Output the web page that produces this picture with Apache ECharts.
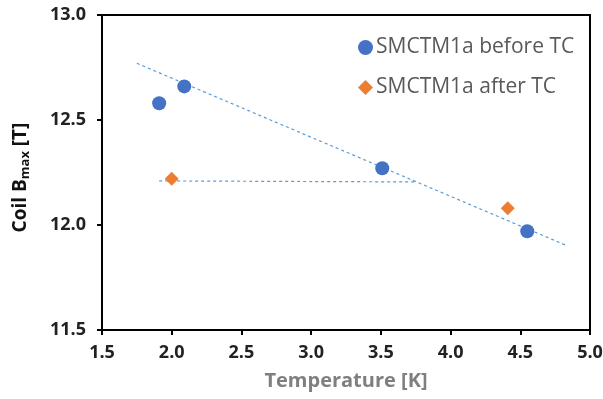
<!DOCTYPE html>
<html>
<head>
<meta charset="utf-8">
<script src="https://cdn.jsdelivr.net/npm/echarts@6/dist/echarts.min.js"></script>
<style>
  html, body { margin: 0; padding: 0; background: #fff; }
  #chart { width: 603px; height: 399px; }
</style>
</head>
<body>
<div id="chart"></div>
<script>
// Measured points (temperature K, coil Bmax T)
const beforeTC = [[1.91, 12.58], [2.09, 12.66], [3.51, 12.27], [4.55, 11.97]];
const afterTC = [[2.0, 12.22], [4.41, 12.08]];
// Dashed trend lines, as drawn in the original
const beforeTrend = [[1.75, 12.77], [4.84, 11.90]];
const afterTrend = [[1.91, 12.21], [3.75, 12.205]];
const seriesNames = ['SMCTM1a before TC', 'SMCTM1a after TC'];

const chart = echarts.init(document.getElementById('chart'), undefined, { renderer: 'canvas' });

const font = 'Open Sans, sans-serif';
const axisLine = { show: true, lineStyle: { color: '#000', width: 2 } };

chart.setOption({
  backgroundColor: '#fff',
  animation: false,
  grid: {
    left: 102, right: 13, top: 15, bottom: 69,
    outerBoundsMode: 'none',
    show: true, borderColor: '#000', borderWidth: 2
  },
  legend: {
    orient: 'vertical',
    left: 358,
    top: 37,
    padding: 0,
    itemGap: 19,
    itemWidth: 15,
    itemHeight: 15,
    data: [
      { name: seriesNames[0], icon: 'circle' },
      { name: seriesNames[1], icon: 'diamond' }
    ],
    textStyle: { color: '#595959', fontSize: 21, fontFamily: font, padding: [0, 0, 0, -2] }
  },
  xAxis: {
    type: 'value',
    min: 1.5,
    max: 5.0,
    interval: 0.5,
    name: 'Temperature [K]',
    nameLocation: 'middle',
    nameGap: 41,
    nameTextStyle: { color: '#7f7f7f', fontSize: 20, fontWeight: 'bold', fontFamily: font },
    axisLine: axisLine,
    axisTick: { show: true, inside: false, length: 5, lineStyle: { color: '#000', width: 2 } },
    splitLine: { show: false },
    axisLabel: { color: '#222', fontSize: 18, fontWeight: 'bold', fontFamily: font, margin: 14,
      formatter: (v) => v.toFixed(1) }
  },
  yAxis: {
    type: 'value',
    min: 11.5,
    max: 13.0,
    interval: 0.5,
    name: '{b|Coil B}{s|max}{b| [T]}',
    nameLocation: 'middle',
    nameGap: 70,
    nameTextStyle: {
      padding: [0, 10, 0, 0],
      rich: {
        b: { color: '#111', fontSize: 19, fontWeight: 'bold', fontFamily: font },
        s: { color: '#111', fontSize: 13, fontWeight: 'bold', fontFamily: font, verticalAlign: 'bottom', padding: [9, 0, 0, 0] }
      }
    },
    axisLine: axisLine,
    axisTick: { show: true, inside: false, length: 5, lineStyle: { color: '#000', width: 2 } },
    splitLine: { show: false },
    axisLabel: { color: '#222', fontSize: 18, fontWeight: 'bold', fontFamily: font, margin: 16,
      formatter: (v) => v.toFixed(1) }
  },
  series: [
    {
      name: 'trend before',
      type: 'line',
      data: beforeTrend,
      symbol: 'none',
      silent: true,
      lineStyle: { color: '#5B9BD5', width: 1.2, type: [3, 3] },
      z: 1
    },
    {
      name: 'trend after',
      type: 'line',
      data: afterTrend,
      symbol: 'none',
      silent: true,
      lineStyle: { color: '#5B9BD5', width: 1.2, type: [3, 3] },
      z: 1
    },
    {
      name: seriesNames[0],
      type: 'scatter',
      data: beforeTC,
      symbol: 'circle',
      symbolSize: 14,
      itemStyle: { color: '#4472C4', opacity: 1 },
      z: 3
    },
    {
      name: seriesNames[1],
      type: 'scatter',
      data: afterTC,
      symbol: 'diamond',
      symbolSize: 14,
      itemStyle: { color: '#ED7D31', opacity: 1 },
      z: 3
    }
  ]
});

window.addEventListener('resize', () => chart.resize());
</script>
</body>
</html>
